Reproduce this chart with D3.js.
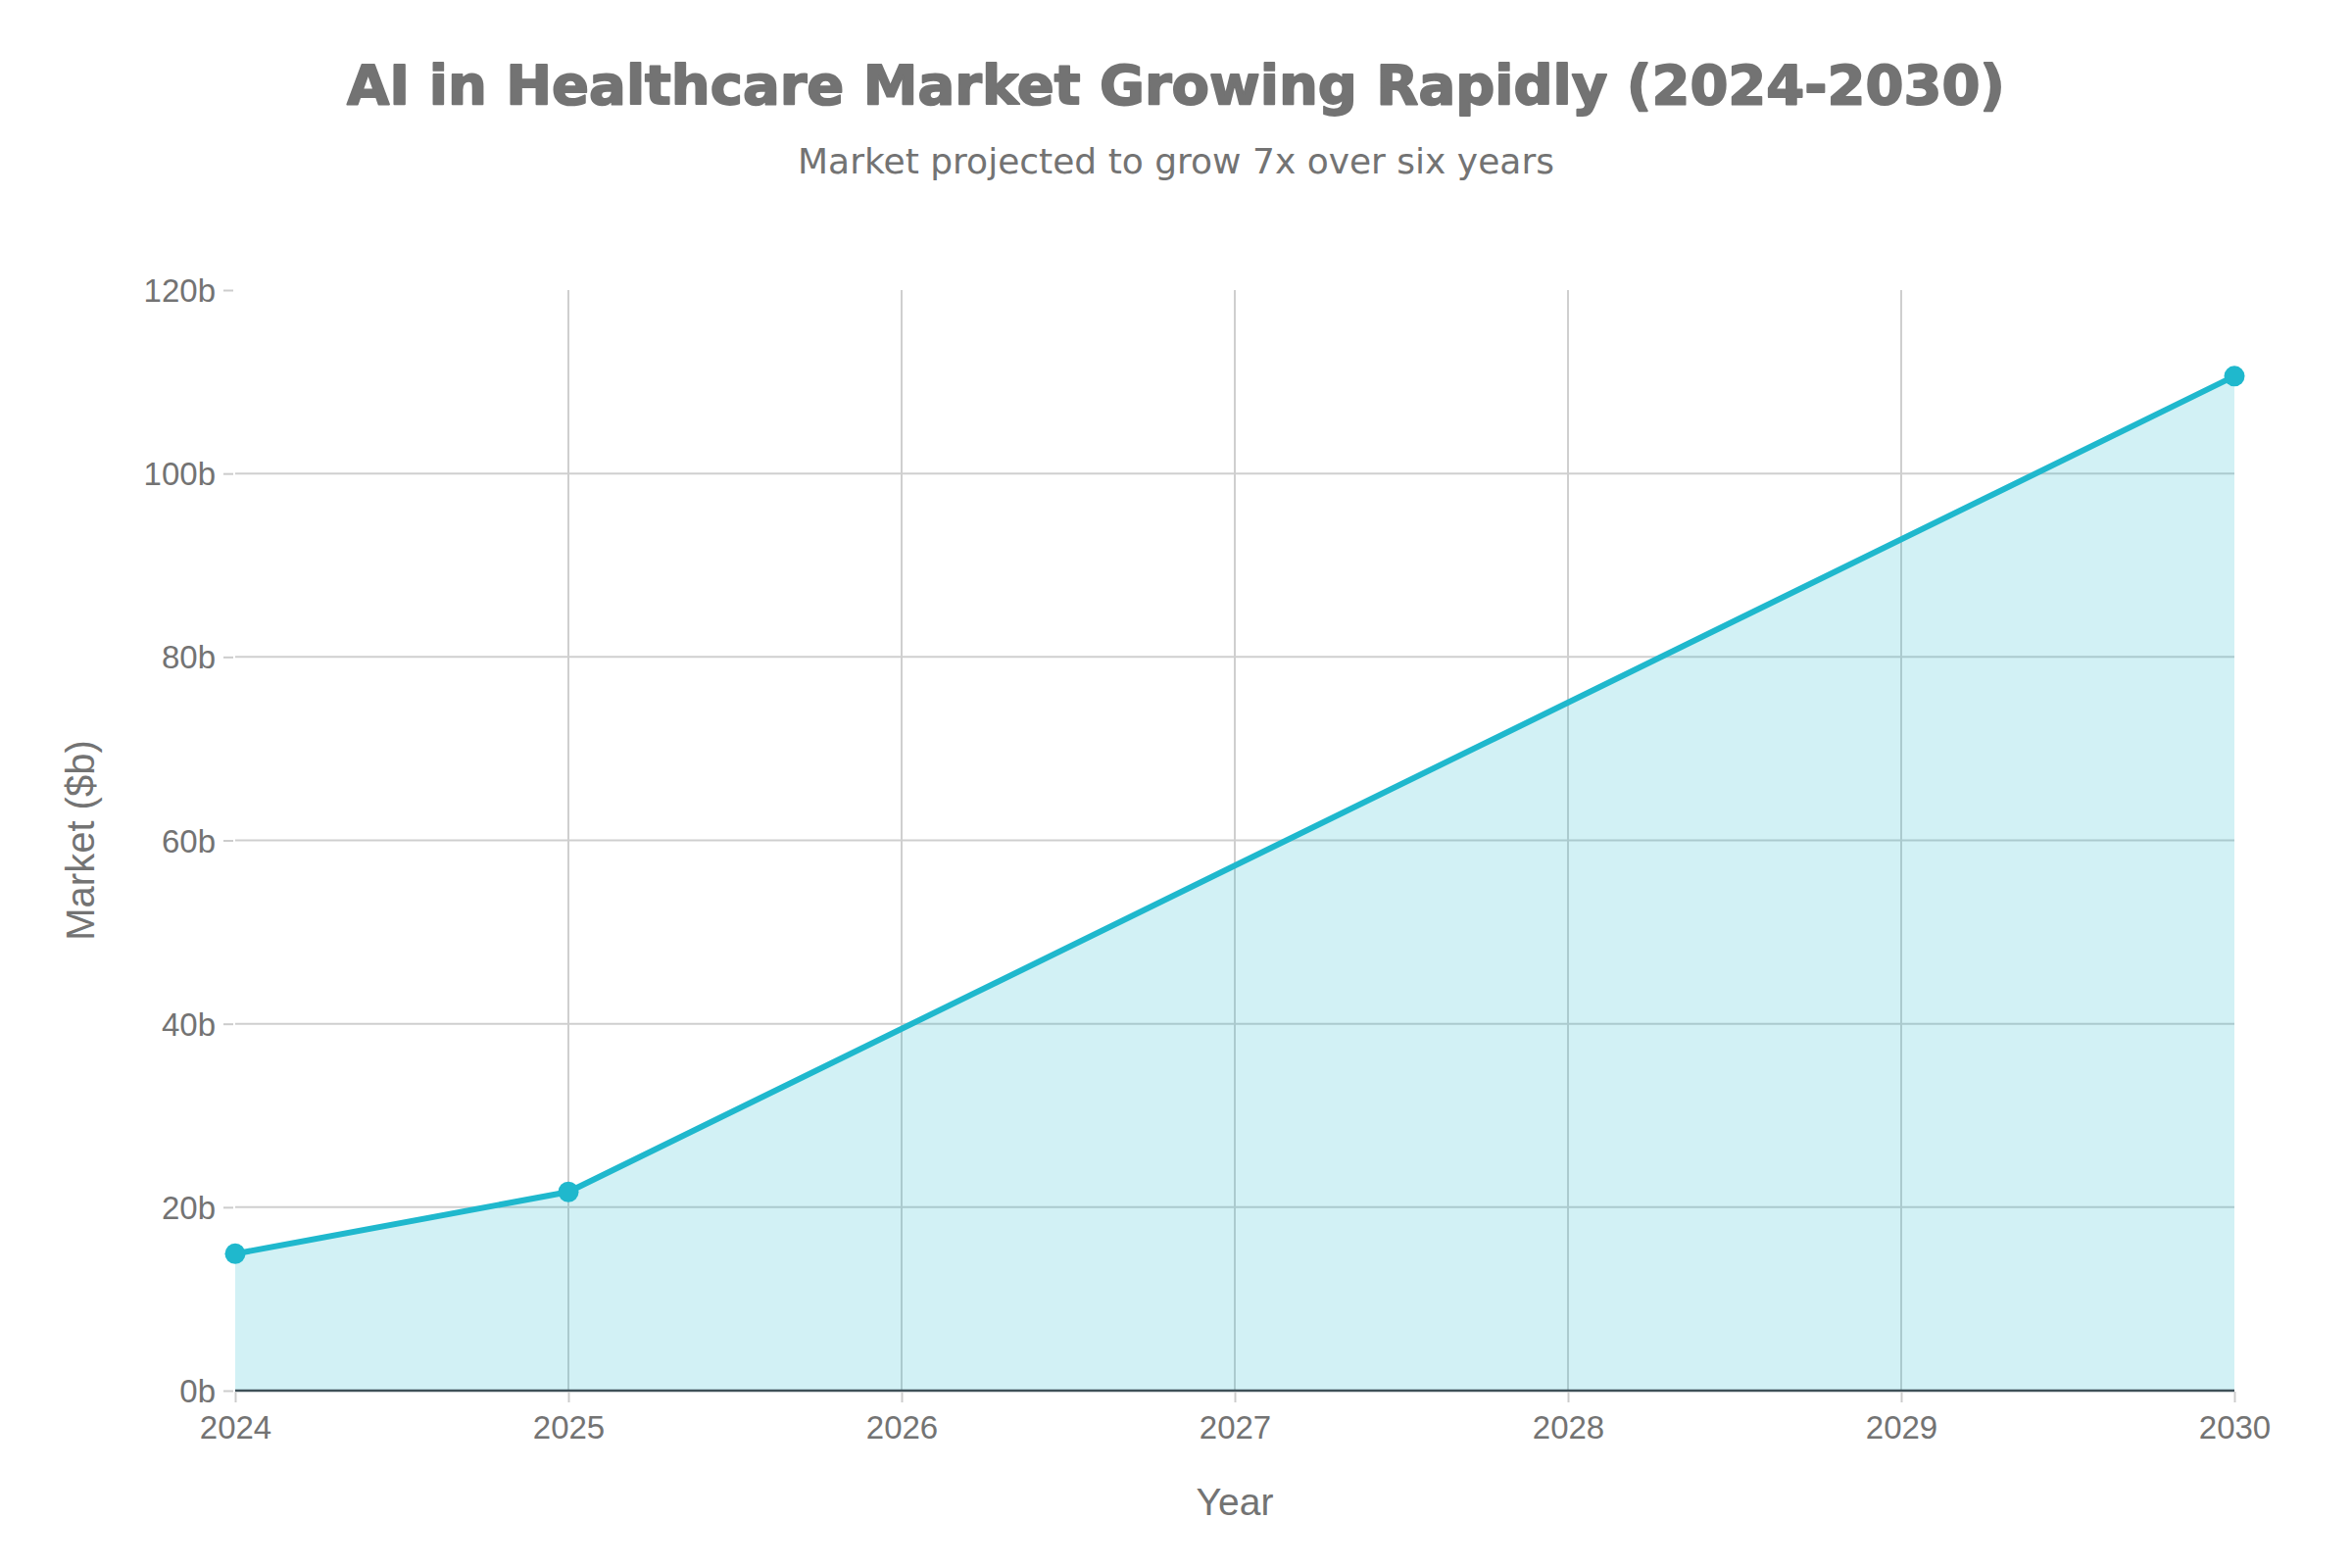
<!DOCTYPE html>
<html>
<head>
<meta charset="utf-8">
<script src="https://cdn.jsdelivr.net/npm/d3@7"></script>
<style>
  html, body { margin: 0; padding: 0; background: #ffffff; }
  svg { display: block; }
</style>
</head>
<body>
<svg id="chart" width="2400" height="1600"></svg>
<script>
// ---- data ----
const years = [2024, 2025, 2030];
const marketValues = [14.92, 21.66, 110.61];
const xTickValues = [2024, 2025, 2026, 2027, 2028, 2029, 2030];
const yTickValues = [0, 20, 40, 60, 80, 100, 120];
const titleText = "AI in Healthcare Market Growing Rapidly (2024-2030)";
const subtitleText = "Market projected to grow 7x over six years";
const xAxisTitle = "Year";
const yAxisTitle = "Market ($b)";

const data = years.map((y, i) => ({ year: y, value: marketValues[i] }));

const W = 2400, H = 1600;
const plot = { left: 240, right: 2280, top: 296, bottom: 1419 };
const lineColor = "#1FB8CD";
const textColor = "#737373";
const tickFont = "'Liberation Sans', Arial, Helvetica, sans-serif";

const svg = d3.select("#chart");

const x = d3.scaleLinear().domain([2024, 2030]).range([plot.left, plot.right]);
const y = d3.scaleLinear().domain([0, 120]).range([plot.bottom, plot.top]);

// gridlines
const grid = svg.append("g");
grid.selectAll("line.hgrid")
  .data(yTickValues.filter(v => v > 0 && v < 120))
  .join("line")
  .attr("x1", plot.left).attr("x2", plot.right)
  .attr("y1", d => y(d)).attr("y2", d => y(d))
  .attr("stroke", "#cfcfcf").attr("stroke-width", 2);
grid.selectAll("line.vgrid")
  .data(xTickValues.filter(v => v > 2024 && v < 2030))
  .join("line")
  .attr("x1", d => x(d)).attr("x2", d => x(d))
  .attr("y1", plot.top).attr("y2", plot.bottom)
  .attr("stroke", "#cfcfcf").attr("stroke-width", 2);

// area
const area = d3.area().x(d => x(d.year)).y0(y(0)).y1(d => y(d.value));
svg.append("path").datum(data)
  .attr("d", area)
  .attr("fill", "rgba(31,184,205,0.2)");

// zero line
svg.append("line")
  .attr("x1", plot.left).attr("x2", plot.right)
  .attr("y1", y(0)).attr("y2", y(0))
  .attr("stroke", "#3e5058").attr("stroke-width", 2.5);

// line
const line = d3.line().x(d => x(d.year)).y(d => y(d.value));
svg.append("path").datum(data)
  .attr("d", line)
  .attr("fill", "none")
  .attr("stroke", lineColor)
  .attr("stroke-width", 6)
  .attr("stroke-linejoin", "round");

// markers
svg.selectAll("circle.pt").data(data).join("circle")
  .attr("cx", d => x(d.year)).attr("cy", d => y(d.value))
  .attr("r", 10.5).attr("fill", lineColor);

// y axis
const yAxis = d3.axisLeft(y).tickValues(yTickValues).tickFormat(d => d + "b")
  .tickSize(10).tickPadding(8);
const gy = svg.append("g").attr("transform", `translate(${plot.left - 2},0)`).call(yAxis);
gy.select(".domain").remove();
gy.selectAll(".tick line").attr("stroke", "#cccccc").attr("stroke-width", 2);
gy.selectAll(".tick text")
  .attr("fill", textColor)
  .style("font-family", tickFont)
  .style("font-size", "33px")
  .attr("dy", "0.35em");

// x axis
const xAxis = d3.axisBottom(x).tickValues(xTickValues).tickFormat(d3.format("d"))
  .tickSize(11).tickPadding(14);
const gx = svg.append("g").attr("transform", `translate(0,${plot.bottom + 1})`).call(xAxis);
gx.select(".domain").remove();
gx.selectAll(".tick line").attr("stroke", "#cccccc").attr("stroke-width", 2);
gx.selectAll(".tick text")
  .attr("fill", textColor)
  .style("font-family", tickFont)
  .style("font-size", "33px")
  .attr("dy", "0.71em");

// axis titles
svg.append("text")
  .attr("x", (plot.left + plot.right) / 2).attr("y", 1546)
  .attr("text-anchor", "middle")
  .attr("fill", textColor)
  .style("font-family", tickFont).style("font-size", "39px")
  .text(xAxisTitle);

svg.append("text")
  .attr("transform", `translate(96,${(plot.top + plot.bottom) / 2}) rotate(-90)`)
  .attr("text-anchor", "middle")
  .attr("fill", textColor)
  .style("font-family", tickFont).style("font-size", "40px")
  .text(yAxisTitle);

// title & subtitle
svg.append("text")
  .attr("x", W / 2).attr("y", 106)
  .attr("text-anchor", "middle")
  .attr("fill", textColor)
  .attr("stroke", textColor)
  .attr("stroke-width", 1.8)
  .attr("stroke-linejoin", "round")
  .style("font-family", "'DejaVu Sans', sans-serif")
  .style("font-weight", "bold")
  .style("font-size", "56px")
  .text(titleText);

svg.append("text")
  .attr("x", W / 2).attr("y", 177)
  .attr("text-anchor", "middle")
  .attr("fill", textColor)
  .style("font-family", "'DejaVu Sans', sans-serif")
  .style("font-size", "36px")
  .text(subtitleText);
</script>
</body>
</html>
